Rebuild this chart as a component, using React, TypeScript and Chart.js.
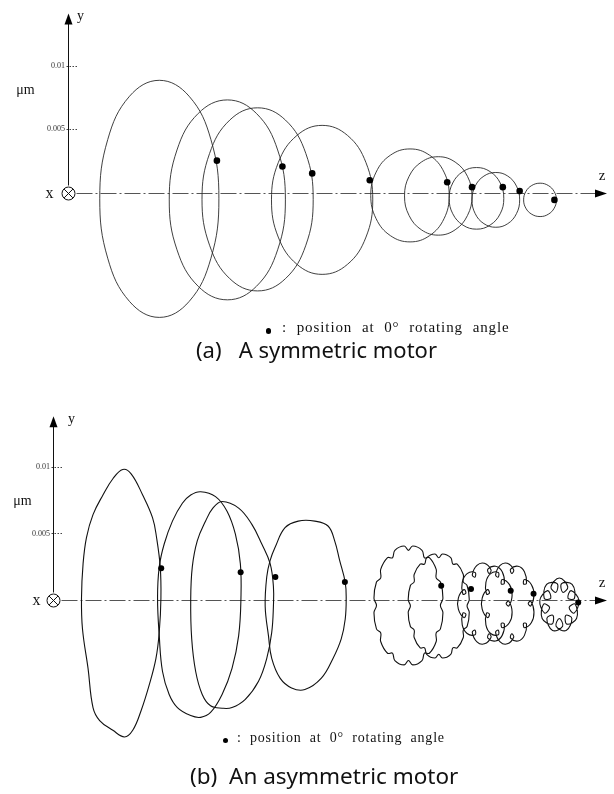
import { useEffect, useRef } from "react";
import { Chart, registerables } from "chart.js";

Chart.register(...registerables);

// Each orbit point is [axial position z (arbitrary units), vertical displacement y (μm)]
type Pt = [number, number];

const yTickValues = [0.005, 0.01];

// ---- (a) symmetric motor: orbits at nine axial stations ----
const symOrbit1: Pt[] = [[76, -0.00046], [72, 0.00419], [61, 0.0076], [46, 0.00885], [31, 0.0076], [20, 0.00419], [16, -0.00046], [20, -0.00512], [31, -0.00852], [46, -0.00977], [61, -0.00852], [72, -0.00512]];
const symOrbit2: Pt[] = [[109.5, -0.00054], [105.6, 0.00338], [94.9, 0.00625], [80.3, 0.00731], [65.6, 0.00625], [54.9, 0.00338], [51, -0.00054], [54.9, -0.00446], [65.6, -0.00733], [80.3, -0.00839], [94.9, -0.00733], [105.6, -0.00446]];
const symOrbit3: Pt[] = [[123.5, -0.0005], [119.8, 0.0031], [109.5, 0.00573], [95.5, 0.00669], [81.5, 0.00573], [71.3, 0.0031], [67.5, -0.0005], [71.3, -0.0041], [81.5, -0.00673], [95.5, -0.00769], [109.5, -0.00673], [119.8, -0.0041]];
const symOrbit4: Pt[] = [[153.5, -0.00054], [150.1, 0.00238], [140.8, 0.00452], [128, 0.00531], [115.3, 0.00452], [105.9, 0.00238], [102.5, -0.00054], [105.9, -0.00346], [115.3, -0.0056], [128, -0.00639], [140.8, -0.0056], [150.1, -0.00346]];
const symOrbit5: Pt[] = [[192, -0.00019], [189.4, 0.00164], [182.1, 0.00297], [172.3, 0.00346], [162.4, 0.00297], [155.2, 0.00164], [152.5, -0.00019], [155.2, -0.00202], [162.4, -0.00335], [172.3, -0.00384], [182.1, -0.00335], [189.4, -0.00202]];
const symOrbit6: Pt[] = [[203.5, -0.00023], [201.2, 0.00131], [195, 0.00243], [186.5, 0.00285], [178, 0.00243], [171.8, 0.00131], [169.5, -0.00023], [171.8, -0.00177], [178, -0.00289], [186.5, -0.00331], [195, -0.00289], [201.2, -0.00177]];
const symOrbit7: Pt[] = [[219.5, -0.00042], [217.7, 0.00079], [212.6, 0.00168], [205.8, 0.002], [198.9, 0.00168], [193.8, 0.00079], [192, -0.00042], [193.8, -0.00163], [198.9, -0.00252], [205.8, -0.00284], [212.6, -0.00252], [217.7, -0.00163]];
const symOrbit8: Pt[] = [[227.5, -0.00054], [225.9, 0.00054], [221.5, 0.00133], [215.5, 0.00161], [209.5, 0.00133], [205.1, 0.00054], [203.5, -0.00054], [205.1, -0.00162], [209.5, -0.00241], [215.5, -0.00269], [221.5, -0.00241], [225.9, -0.00162]];
const symOrbit9: Pt[] = [[246, -0.00054], [244.9, 0.00011], [241.9, 0.00059], [237.8, 0.00077], [233.6, 0.00059], [230.6, 0.00011], [229.5, -0.00054], [230.6, -0.00119], [233.6, -0.00167], [237.8, -0.00185], [241.9, -0.00167], [244.9, -0.00119]];
const symOrbits = [symOrbit1, symOrbit2, symOrbit3, symOrbit4, symOrbit5, symOrbit6, symOrbit7, symOrbit8, symOrbit9];
// rotor position at 0° rotating angle on each orbit
const symZeroAngle: Pt[] = [[75, 0.00254], [108, 0.00208], [123, 0.00154], [152, 0.001], [191, 0.00085], [203.5, 0.00046], [219, 0.00046], [227.5, 0.00015], [245, -0.00054]];

// ---- (b) asymmetric motor: orbits at nine axial stations ----
const asymOrbit1: Pt[] = [[35.15, 0.00983], [39.35, 0.0095], [45.15, 0.0079], [50.15, 0.00617], [52.15, 0.00469], [54, 0.00247], [54.35, 0.00013], [53.5, -0.00247], [51.85, -0.00444], [48.5, -0.00642], [44.35, -0.00839], [40.15, -0.00987], [36, -0.01037], [30.15, -0.00987], [23.5, -0.00913], [20.15, -0.00815], [17.65, -0.00519], [14.85, -0.00222], [14.35, 0.00013], [15.15, 0.00272], [16.85, 0.00469], [20.15, 0.00642], [25.15, 0.0079], [30.15, 0.00913]];
const asymOrbit2: Pt[] = [[74.35, 0.00815], [81.85, 0.00778], [87.65, 0.00667], [91.85, 0.00494], [94.35, 0.00272], [94.65, 0.00013], [93.5, -0.00272], [90.15, -0.00519], [85.15, -0.00716], [79.35, -0.00852], [74.35, -0.00889], [69.35, -0.00876], [62.65, -0.00815], [58.5, -0.00716], [55.15, -0.00543], [53.5, -0.00272], [52.65, 0.00013], [53.5, 0.00247], [56, 0.0042], [60.15, 0.00593], [65.15, 0.00728], [69.35, 0.0079]];
const asymOrbit3: Pt[] = [[85.15, 0.00741], [93.5, 0.00691], [100.15, 0.00568], [105.15, 0.0042], [109.35, 0.00272], [111, 0.00099], [111, -0.0005], [110.15, -0.00247], [107.65, -0.00444], [103.5, -0.00617], [96.85, -0.00753], [90.15, -0.00815], [85.15, -0.0082], [79.35, -0.00802], [75.15, -0.00716], [71.85, -0.00543], [69.85, -0.00296], [69.35, 0], [70.15, 0.00247], [72.65, 0.00444], [76.85, 0.00593], [80.5, 0.00691]];
const asymOrbit4: Pt[] = [[123.5, 0.00593], [131.85, 0.00593], [138.5, 0.00556], [141.85, 0.00444], [144.35, 0.00296], [147.15, 0.00131], [147.65, 0.00013], [147.15, -0.00148], [145.15, -0.00296], [141, -0.00444], [135.15, -0.00593], [126.85, -0.00679], [120.15, -0.00667], [114.35, -0.00593], [110.15, -0.00444], [108.5, -0.00272], [106.85, -0.0005], [107.65, 0.00173], [109.35, 0.00296], [111.85, 0.00395], [116.85, 0.00543]];
const asymOrbit5: Pt[] = [[195.1, -0.00044], [196.37, 0.00011], [195.11, 0.00133], [192.94, 0.00164], [192.98, 0.00228], [189.53, 0.00317], [187.05, 0.00316], [185.84, 0.00372], [181.13, 0.00405], [179, 0.00372], [176.87, 0.00405], [172.16, 0.00372], [170.95, 0.00316], [168.47, 0.00317], [165.02, 0.00228], [165.06, 0.00164], [162.89, 0.00133], [161.63, 0.00011], [162.9, -0.00044], [161.63, -0.00099], [162.89, -0.00221], [165.06, -0.00252], [165.02, -0.00316], [168.47, -0.00405], [170.95, -0.00404], [172.16, -0.0046], [176.87, -0.00493], [179, -0.0046], [181.13, -0.00493], [185.84, -0.0046], [187.05, -0.00404], [189.53, -0.00405], [192.98, -0.00316], [192.94, -0.00252], [195.11, -0.00221], [196.37, -0.00099]];
const asymOrbit6: Pt[] = [[208.51, -0.00048], [209.63, 0], [208.52, 0.00107], [206.6, 0.00134], [206.63, 0.0019], [203.58, 0.00268], [201.38, 0.00268], [200.31, 0.00317], [196.14, 0.00345], [194.25, 0.00316], [192.36, 0.00345], [188.19, 0.00317], [187.12, 0.00268], [184.92, 0.00268], [181.87, 0.0019], [181.9, 0.00134], [179.98, 0.00107], [178.87, 0], [179.99, -0.00048], [178.87, -0.00096], [179.98, -0.00203], [181.9, -0.0023], [181.87, -0.00286], [184.92, -0.00364], [187.12, -0.00364], [188.19, -0.00413], [192.36, -0.00441], [194.25, -0.00412], [196.14, -0.00441], [200.31, -0.00413], [201.38, -0.00364], [203.58, -0.00364], [206.63, -0.00286], [206.6, -0.0023], [208.52, -0.00203], [209.63, -0.00096]];
const asymOrbit7: Pt[] = [[231.2, 0.00033], [229.89, 0.00113], [226.26, 0.00152], [225.76, 0.00118], [227.32, 0.00124], [226.22, 0.0021], [222.9, 0.00252], [218.99, 0.0023], [219.56, 0.00197], [220.61, 0.00224], [217.27, 0.00274], [213.5, 0.00259], [211.14, 0.00187], [212.53, 0.0017], [212.57, 0.00205], [208.55, 0.00196], [206.09, 0.00131], [206.38, 0.00042], [207.93, 0.00049], [206.95, 0.00076], [204.13, 0.00012], [204.13, -0.00072], [206.95, -0.00136], [207.93, -0.00109], [206.38, -0.00102], [206.09, -0.00191], [208.55, -0.00256], [212.57, -0.00265], [212.53, -0.0023], [211.14, -0.00247], [213.5, -0.00319], [217.27, -0.00334], [220.61, -0.00284], [219.56, -0.00258], [218.99, -0.0029], [222.9, -0.00312], [226.22, -0.0027], [227.32, -0.00184], [225.76, -0.00179], [226.26, -0.00212], [229.89, -0.00173], [231.2, -0.00093], [229.55, -0.00012], [228.2, -0.0003], [229.55, -0.00048]];
const asymOrbit8: Pt[] = [[242.21, 0.00033], [240.95, 0.00113], [237.45, 0.00152], [236.96, 0.00118], [238.47, 0.00124], [237.41, 0.0021], [234.21, 0.00252], [230.44, 0.0023], [231, 0.00197], [232.01, 0.00224], [228.79, 0.00274], [225.16, 0.00259], [222.88, 0.00187], [224.22, 0.0017], [224.25, 0.00205], [220.38, 0.00196], [218.01, 0.00131], [218.3, 0.00042], [219.79, 0.00049], [218.84, 0.00076], [216.13, 0.00012], [216.13, -0.00072], [218.84, -0.00136], [219.79, -0.00109], [218.3, -0.00102], [218.01, -0.00191], [220.38, -0.00256], [224.25, -0.00265], [224.22, -0.0023], [222.88, -0.00247], [225.16, -0.00319], [228.79, -0.00334], [232.01, -0.00284], [231, -0.00258], [230.44, -0.0029], [234.21, -0.00312], [237.41, -0.0027], [238.47, -0.00184], [236.96, -0.00179], [237.45, -0.00212], [240.95, -0.00173], [242.21, -0.00093], [240.62, -0.00012], [239.32, -0.0003], [240.62, -0.00048]];
const asymOrbit9: Pt[] = [[264.85, -0.00006], [260.94, 0.00068], [259.33, 0.0001], [262.61, 0.00009], [261.43, 0.00115], [256.11, 0.00121], [256.71, 0.00055], [259.24, 0.00097], [255, 0.00163], [250.76, 0.00097], [253.29, 0.00055], [253.89, 0.00121], [248.57, 0.00115], [247.39, 0.00009], [250.67, 0.0001], [249.06, 0.00068], [245.15, -0.00006], [247.58, -0.00102], [250.08, -0.00059], [247.01, -0.00035], [246.34, -0.00143], [251.25, -0.00185], [251.79, -0.00119], [248.7, -0.00142], [251.58, -0.00233], [256.66, -0.00201], [255, -0.00143], [253.34, -0.00201], [258.42, -0.00233], [261.3, -0.00142], [258.22, -0.00119], [258.75, -0.00185], [263.66, -0.00143], [262.99, -0.00035], [259.93, -0.00059], [262.42, -0.00102]];
const asymOrbits = [asymOrbit1, asymOrbit2, asymOrbit3, asymOrbit4, asymOrbit5, asymOrbit6, asymOrbit7, asymOrbit8, asymOrbit9];
const asymZeroAngle: Pt[] = [[54.5, 0.00237], [94.5, 0.00207], [112, 0.0017], [147, 0.00133], [195.5, 0.00104], [210.5, 0.00081], [230.5, 0.00067], [242, 0.00044], [264.5, -0.00022]];

type AxisLook = {
  yTip: number;
  zTip: number;
  yLabelDx: number;
  xLabelDx: number;
  unitDx: number;
  unitY: number;
};

// Draws the y axis arrow, the z centre line, the ⊗ x axis and their labels
function orbitAxes(look: AxisLook) {
  return {
    id: "orbitAxes",
    beforeDatasetsDraw(chart: any) {
      const { ctx } = chart;
      const xs = chart.scales.x;
      const ys = chart.scales.y;
      const ox = Math.round(xs.getPixelForValue(0)) + 0.5;
      const oy = Math.round(ys.getPixelForValue(0)) + 0.5;
      const top = ys.getPixelForValue(look.yTip);
      const right = xs.getPixelForValue(look.zTip);
      ctx.save();
      ctx.lineWidth = 1;
      ctx.strokeStyle = "#111";
      ctx.fillStyle = "#000";
      ctx.beginPath();
      ctx.moveTo(ox, oy - 8);
      ctx.lineTo(ox, top + 8);
      ctx.stroke();
      ctx.beginPath();
      ctx.moveTo(ox, top);
      ctx.lineTo(ox - 4, top + 11);
      ctx.lineTo(ox + 4, top + 11);
      ctx.closePath();
      ctx.fill();

      ctx.strokeStyle = "#555";
      ctx.setLineDash([16, 3, 2, 3]);
      ctx.beginPath();
      ctx.moveTo(ox + 8, oy);
      ctx.lineTo(right - 10, oy);
      ctx.stroke();
      ctx.setLineDash([]);
      ctx.beginPath();
      ctx.moveTo(right, oy);
      ctx.lineTo(right - 12, oy - 4);
      ctx.lineTo(right - 12, oy + 4);
      ctx.closePath();
      ctx.fill();

      ctx.strokeStyle = "#111";
      ctx.beginPath();
      ctx.arc(ox, oy, 6.5, 0, Math.PI * 2);
      ctx.stroke();
      const k = 4.4;
      ctx.beginPath();
      ctx.moveTo(ox - k, oy - k);
      ctx.lineTo(ox + k, oy + k);
      ctx.moveTo(ox + k, oy - k);
      ctx.lineTo(ox - k, oy + k);
      ctx.stroke();

      ctx.strokeStyle = "#444";
      ctx.setLineDash([1.5, 1.5]);
      for (const v of yTickValues) {
        const py = Math.round(ys.getPixelForValue(v)) + 0.5;
        ctx.beginPath();
        ctx.moveTo(ox - 2, py);
        ctx.lineTo(ox + 9, py);
        ctx.stroke();
      }
      ctx.setLineDash([]);

      ctx.fillStyle = "#111";
      ctx.textAlign = "center";
      ctx.textBaseline = "middle";
      ctx.font = "16px 'Liberation Serif', serif";
      ctx.fillText("x", ox + look.xLabelDx, oy);
      ctx.font = "14px 'Liberation Serif', serif";
      ctx.fillText("y", ox + look.yLabelDx, top + 3);
      ctx.font = "15px 'Liberation Serif', serif";
      ctx.fillText("z", right - 5, oy - 17);
      ctx.font = "14px 'Liberation Serif', serif";
      ctx.fillText("μm", ox + look.unitDx, ys.getPixelForValue(look.unitY));
      ctx.restore();
    },
  };
}

type PanelSpec = {
  orbits: Pt[][];
  marks: Pt[];
  yMin: number;
  yMax: number;
  zMax: number;
  axisWidth: number;
  lineColor: string;
  lineWidth: number;
  markRadius: number;
  look: AxisLook;
};

function orbitDataset(points: Pt[], color: string, width: number) {
  // pad the ring so the spline closes smoothly; padding segments stay invisible
  const n = points.length;
  const ring = [points[n - 1], ...points, points[0], points[1]];
  return {
    type: "scatter" as const,
    data: ring.map(([z, y]) => ({ x: z, y })),
    showLine: true,
    borderColor: color,
    borderWidth: width,
    pointRadius: 0,
    tension: 0.4,
    fill: false,
    segment: {
      borderColor: (c: any) => (c.p0DataIndex === 0 || c.p1DataIndex === n + 2 ? "rgba(0,0,0,0)" : undefined),
    },
  };
}

function makePanel(canvas: HTMLCanvasElement, spec: PanelSpec) {
  const datasets: any[] = [
    {
      type: "scatter",
      data: spec.marks.map(([z, y]) => ({ x: z, y })),
      pointRadius: spec.markRadius,
      pointBackgroundColor: "#000",
      pointBorderWidth: 0,
      showLine: false,
    },
    ...spec.orbits.map((o) => orbitDataset(o, spec.lineColor, spec.lineWidth)),
  ];
  return new Chart(canvas, {
    type: "scatter",
    data: { datasets },
    options: {
      responsive: false,
      animation: false,
      devicePixelRatio: 1,
      layout: { padding: 0 },
      events: [],
      plugins: { legend: { display: false }, tooltip: { enabled: false } },
      scales: {
        x: { type: "linear", min: 0, max: spec.zMax, display: false },
        y: {
          type: "linear",
          min: spec.yMin,
          max: spec.yMax,
          position: "left",
          grid: { display: false, drawTicks: false },
          border: { display: false },
          ticks: {
            font: { family: "'Liberation Serif', serif", size: 8 },
            color: "#333",
            padding: 3,
            callback: (v: any) => String(v),
          },
          afterBuildTicks: (scale: any) => {
            scale.ticks = yTickValues.map((v) => ({ value: v }));
          },
          afterFit: (scale: any) => {
            scale.width = spec.axisWidth;
            scale.paddingTop = 0;
            scale.paddingBottom = 0;
          },
        },
      },
    },
    plugins: [orbitAxes(spec.look)],
  } as any);
}

const noteStyle = (size: number): React.CSSProperties => ({
  position: "absolute",
  fontFamily: "'Liberation Serif', 'Times New Roman', serif",
  fontSize: size,
  lineHeight: 1,
  letterSpacing: 0.9,
  wordSpacing: 5,
  color: "#111",
  whiteSpace: "nowrap",
});

const captionStyle: React.CSSProperties = {
  position: "absolute",
  fontFamily: "'Noto Sans', 'DejaVu Sans', sans-serif",
  fontSize: 22,
  lineHeight: 1,
  color: "#111",
  whiteSpace: "pre",
};

const dotStyle = (left: number, top: number, d: number): React.CSSProperties => ({
  position: "absolute",
  left,
  top,
  width: d,
  height: d,
  borderRadius: "50%",
  background: "#000",
});

export default function App() {
  const topRef = useRef<HTMLCanvasElement>(null);
  const bottomRef = useRef<HTMLCanvasElement>(null);

  useEffect(() => {
    const a = makePanel(topRef.current!, {
      orbits: symOrbits,
      marks: symZeroAngle,
      yMin: -0.015,
      yMax: 0.015,
      zMax: 273,
      axisWidth: 68,
      lineColor: "#2a2a2a",
      lineWidth: 0.9,
      markRadius: 3.3,
      look: { yTip: 0.0141, zTip: 271.5, yLabelDx: 12, xLabelDx: -19, unitDx: -43, unitY: 0.0081 },
    });
    const b = makePanel(bottomRef.current!, {
      orbits: asymOrbits,
      marks: asymZeroAngle,
      yMin: -0.014,
      yMax: 0.015,
      zMax: 280.5,
      axisWidth: 53,
      lineColor: "#111",
      lineWidth: 1.1,
      markRadius: 3,
      look: { yTip: 0.01385, zTip: 279, yLabelDx: 18, xLabelDx: -17, unitDx: -31, unitY: 0.0074 },
    });
    return () => {
      a.destroy();
      b.destroy();
    };
  }, []);

  return (
    <div style={{ position: "absolute", left: 0, top: 0, width: 614, height: 794, background: "#fff", overflow: "hidden" }}>
      <canvas ref={topRef} width={614} height={390} style={{ position: "absolute", left: 0, top: -2, width: 614, height: 390 }} />
      <canvas ref={bottomRef} width={614} height={392} style={{ position: "absolute", left: 0, top: 397, width: 614, height: 392 }} />

      <div style={dotStyle(265.5, 328, 5.5)} />
      <div style={{ ...noteStyle(15), left: 282, top: 320 }}>: position at 0° rotating angle</div>
      <div style={{ ...captionStyle, left: 196, top: 338 }}>{"(a)   A symmetric motor"}</div>

      <div style={dotStyle(222.5, 737.5, 5)} />
      <div style={{ ...noteStyle(14), left: 237, top: 731, letterSpacing: 0.8, wordSpacing: 4 }}>: position at 0° rotating angle</div>
      <div style={{ ...captionStyle, left: 190, top: 765, fontSize: 22.5 }}>{"(b)  An asymmetric motor"}</div>
    </div>
  );
}
